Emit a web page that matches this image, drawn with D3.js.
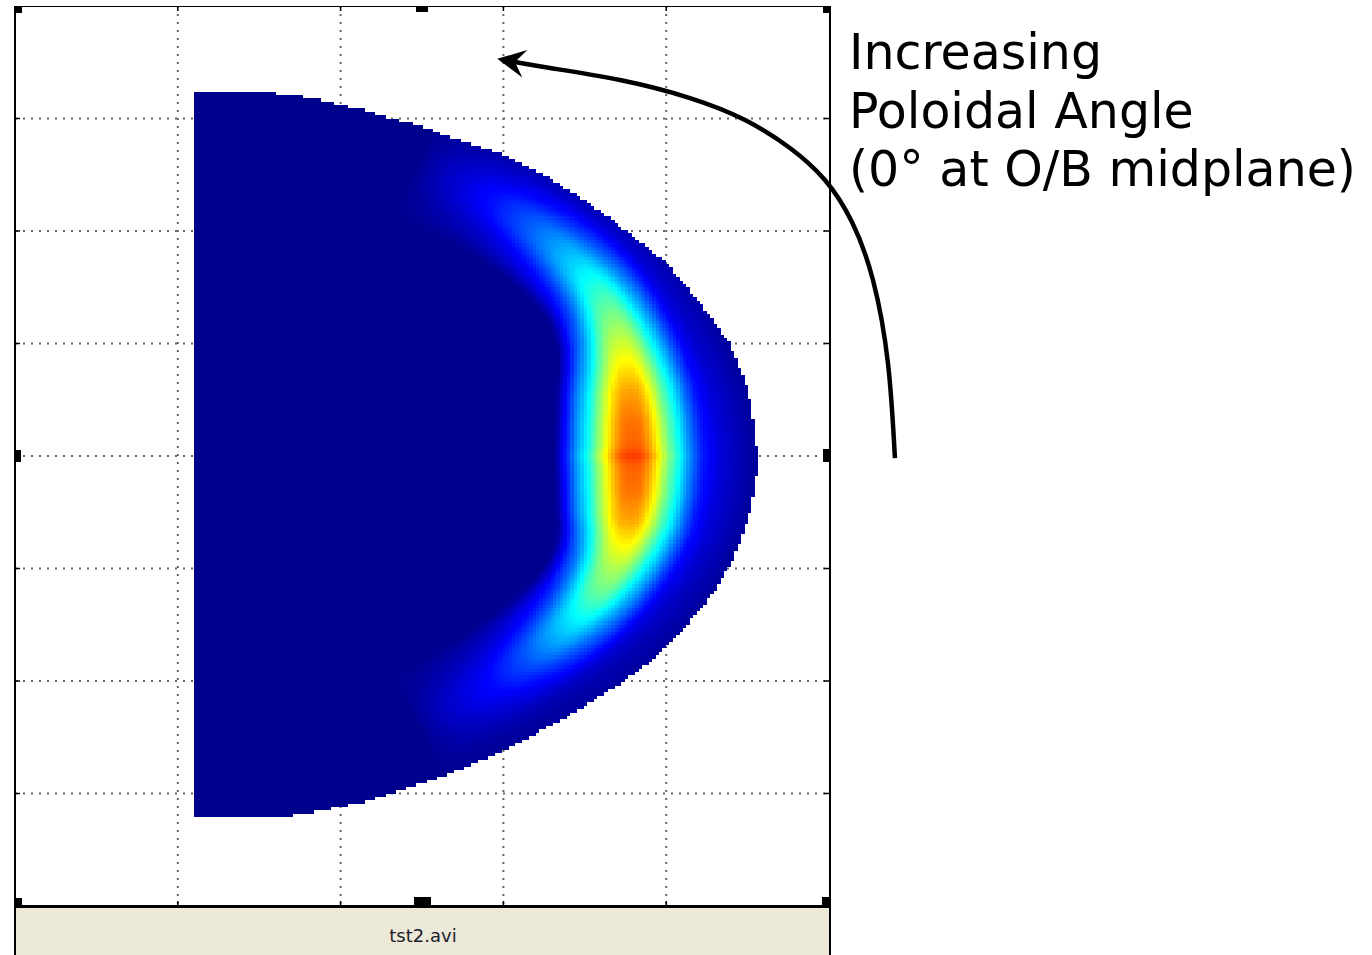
<!DOCTYPE html>
<html><head><meta charset="utf-8">
<script src="https://cdn.jsdelivr.net/npm/d3@7"></script>
<style>html,body{margin:0;padding:0;background:#fff;} svg{display:block;}</style>
</head><body>
<svg id="chart" width="1372" height="955"></svg>
<script>
// ---------- data ----------
const xTicks = [0, 1, 2, 3, 4, 5];
const yTicks = [-4, -3, -2, -1, 0, 1, 2, 3, 4];

// right-hand edge of the D-shaped plasma boundary (data units)
const boundaryY = [3.24, 3.225, 3.20, 3.16, 3.12, 3.08, 3.02, 2.96, 2.81, 2.68, 2.48, 2.32, 2.12, 1.72, 1.36, 1.00, 0.61, 0.17, 0.00, -0.15, -0.54, -0.92, -1.22, -1.55, -1.81, -2.02, -2.32, -2.64, -2.88, -3.08, -3.15, -3.22];
const boundaryX = [1.58, 1.60, 1.76, 1.90, 2.01, 2.13, 2.27, 2.44, 2.72, 3.00, 3.27, 3.45, 3.65, 4.00, 4.21, 4.39, 4.50, 4.55, 4.56, 4.56, 4.51, 4.41, 4.29, 4.10, 3.92, 3.72, 3.39, 2.98, 2.57, 2.13, 1.89, 1.61];
const boundaryLeft = 1.10;

// emission ridge (upper tip -> midplane -> lower tip)
const ridgeX = [2.488, 2.611, 2.776, 2.961, 3.163, 3.348, 3.501, 3.612, 3.695, 3.745, 3.772, 3.788, 3.795, 3.795, 3.795, 3.795, 3.795, 3.788, 3.766, 3.727, 3.660, 3.570, 3.458, 3.305, 3.133, 2.948, 2.776, 2.611, 2.488];
const ridgeY = [2.613, 2.524, 2.391, 2.249, 2.053, 1.831, 1.609, 1.387, 1.120, 0.853, 0.587, 0.320, 0.098, 0.044, 0.000, -0.044, -0.098, -0.320, -0.569, -0.791, -1.013, -1.218, -1.413, -1.618, -1.813, -2.009, -2.169, -2.320, -2.418];
const ridgePeak = [0.00, 0.04, 0.08, 0.13, 0.20, 0.28, 0.36, 0.44, 0.53, 0.62, 0.71, 0.76, 0.78, 0.80, 0.82, 0.80, 0.78, 0.76, 0.71, 0.62, 0.53, 0.46, 0.37, 0.28, 0.19, 0.12, 0.08, 0.04, 0.00];
const ridgeWidth = [0.75, 0.75, 0.74, 0.73, 0.72, 0.72, 0.73, 0.75, 0.80, 0.87, 0.94, 0.98, 1.00, 1.00, 1.00, 1.00, 1.00, 0.98, 0.94, 0.87, 0.80, 0.75, 0.73, 0.72, 0.72, 0.73, 0.74, 0.75, 0.75];

// cross-ridge profile (offset outward positive, data x-units) -> relative intensity
const profileOffset = [-0.48, -0.42, -0.355, -0.28, -0.215, -0.16, -0.105, -0.05, 0.00, 0.05, 0.10, 0.15, 0.21, 0.28, 0.35, 0.42, 0.52, 0.65, 0.80];
const profileValue  = [0.00, 0.15, 0.32, 0.47, 0.64, 0.79, 0.92, 0.99, 1.00, 0.99, 0.92, 0.80, 0.64, 0.48, 0.31, 0.18, 0.10, 0.05, 0.00];

// jet colormap stops
const jetStops  = [0, 0.111, 0.365, 0.619, 0.873, 1];
const jetColors = ["#00008f", "#0000ff", "#00ffff", "#ffff00", "#ff0000", "#800000"];

// annotation arrow path (data units)
const arrowX = [5.405, 5.362, 5.270, 5.141, 4.975, 4.760, 4.484, 4.146, 3.716, 3.286, 3.071];
const arrowY = [-0.018, 0.827, 1.564, 2.080, 2.453, 2.738, 2.987, 3.182, 3.342, 3.449, 3.502];

const annotationLines = ["Increasing", "Poloidal Angle", "(0\u00b0 at O/B midplane)"];
const caption = "tst2.avi";

const cellDX = 0.021, cellDY = 0.03;

// ---------- scales ----------
const svg = d3.select("#chart");
const x = d3.scaleLinear().domain([0, 5]).range([15, 829]);
const y = d3.scaleLinear().domain([-4, 4]).range([906, 6]);
const jet = d3.scaleLinear().domain(jetStops).range(jetColors).clamp(true);
const rightEdge = d3.scaleLinear().domain(boundaryY).range(boundaryX);
const profile = d3.scaleLinear().domain(profileOffset).range(profileValue).clamp(true);
const pxPerUnit = x(1) - x(0);

svg.append("rect").attr("x", 0).attr("y", 0).attr("width", 1372).attr("height", 955).attr("fill", "#fff");

// grid (below the image)
const grid = svg.append("g").attr("stroke", "#666").attr("stroke-width", 2).attr("stroke-dasharray", "2,6");
grid.selectAll("line.v").data(xTicks.slice(1, -1)).join("line")
  .attr("x1", d => x(d)).attr("x2", d => x(d)).attr("y1", y(4)).attr("y2", y(-4));
grid.selectAll("line.h").data(yTicks.slice(1, -1)).join("line")
  .attr("y1", d => y(d)).attr("y2", d => y(d)).attr("x1", x(0)).attr("x2", x(5));

// ---------- field ----------
// smooth the ridge (Catmull-Rom through the read points) in screen space
const rp = ridgeX.map((d, i) => ({ px: x(d), py: y(ridgeY[i]), pk: ridgePeak[i], w: ridgeWidth[i] }));
const ridge = [];
const SUB = 8;
for (let i = 0; i < rp.length - 1; i++) {
  const p0 = rp[Math.max(i - 1, 0)], p1 = rp[i], p2 = rp[i + 1], p3 = rp[Math.min(i + 2, rp.length - 1)];
  for (let s = 0; s < SUB; s++) {
    const t = s / SUB, t2 = t * t, t3 = t2 * t;
    const cr = (a, b, c, d) => 0.5 * ((2 * b) + (-a + c) * t + (2 * a - 5 * b + 4 * c - d) * t2 + (-a + 3 * b - 3 * c + d) * t3);
    ridge.push({
      px: cr(p0.px, p1.px, p2.px, p3.px), py: cr(p0.py, p1.py, p2.py, p3.py),
      pk: p1.pk + t * (p2.pk - p1.pk), w: p1.w + t * (p2.w - p1.w)
    });
  }
}
ridge.push(rp[rp.length - 1]);

function fieldValue(cx, cy) {
  const px = x(cx), py = y(cy);
  let best = Infinity, peak = 0, w = 1, sign = 1;
  for (let i = 0; i < ridge.length - 1; i++) {
    const a = ridge[i], b = ridge[i + 1];
    const dx = b.px - a.px, dy = b.py - a.py, L2 = dx * dx + dy * dy;
    if (L2 === 0) continue;
    let t = ((px - a.px) * dx + (py - a.py) * dy) / L2;
    t = Math.max(0, Math.min(1, t));
    const qx = a.px + t * dx, qy = a.py + t * dy;
    const d2 = (px - qx) ** 2 + (py - qy) ** 2;
    if (d2 < best) {
      best = d2;
      peak = a.pk + t * (b.pk - a.pk);
      w = a.w + t * (b.w - a.w);
      const cross = dx * (py - a.py) - dy * (px - a.px);
      sign = cross < 0 ? 1 : -1;
    }
  }
  const off = sign * Math.sqrt(best) / pxPerUnit / w;
  return peak * profile(off);
}

const yMin = d3.min(boundaryY), yMax = d3.max(boundaryY);
const xMax = d3.max(boundaryX);
const ny = Math.round((yMax - yMin) / cellDY);
const nx = Math.round((xMax + 0.02 - boundaryLeft) / cellDX);
const runs = [];
for (let j = 0; j < ny; j++) {
  const y0 = yMax - j * cellDY, y1 = y0 - cellDY, cy = (y0 + y1) / 2;
  const xr = rightEdge(cy);
  let cur = null;
  for (let i = 0; i < nx; i++) {
    const x0 = boundaryLeft + i * cellDX, x1 = x0 + cellDX, cx = (x0 + x1) / 2;
    if (cx > xr) break;
    const c = jet(fieldValue(cx, cy));
    if (cur && cur.c === c) { cur.x1 = x1; }
    else { cur = { x0, x1, y0, y1, c }; runs.push(cur); }
  }
}
svg.append("g").attr("shape-rendering", "crispEdges")
  .selectAll("rect").data(runs).join("rect")
  .attr("x", d => x(d.x0)).attr("width", d => x(d.x1) - x(d.x0))
  .attr("y", d => y(d.y0)).attr("height", d => y(d.y1) - y(d.y0))
  .attr("fill", d => d.c);

// ---------- frame ----------
svg.append("rect").attr("x", x(0) + 1).attr("y", y(-4) + 1).attr("width", x(5) - x(0)).attr("height", 955 - y(-4))
  .attr("fill", "#ece9d8");
const frame = svg.append("g").attr("stroke", "#000").attr("shape-rendering", "crispEdges");
frame.append("line").attr("x1", x(0)).attr("x2", x(0)).attr("y1", y(4)).attr("y2", 955).attr("stroke-width", 2);
frame.append("line").attr("x1", x(5) + 1).attr("x2", x(5) + 1).attr("y1", y(4)).attr("y2", 955).attr("stroke-width", 2);
frame.append("line").attr("x1", x(0)).attr("x2", x(5) + 1).attr("y1", y(4)).attr("y2", y(4)).attr("stroke-width", 1);
frame.append("line").attr("x1", x(0)).attr("x2", x(5) + 1).attr("y1", y(-4)).attr("y2", y(-4)).attr("stroke-width", 3);

svg.append("text").attr("x", (x(0) + x(5)) / 2 + 1).attr("y", 942).attr("text-anchor", "middle")
  .attr("font-family", "'DejaVu Sans', Verdana, sans-serif").attr("font-size", 18).attr("fill", "#1c1c2c")
  .text(caption);

// ticks (inward)
const tk = svg.append("g").attr("stroke", "#000").attr("stroke-width", 1.5);
tk.selectAll("line.b").data(xTicks.slice(1, -1)).join("line")
  .attr("x1", d => x(d)).attr("x2", d => x(d)).attr("y1", y(-4)).attr("y2", y(-4) - 5);
tk.selectAll("line.t").data(xTicks.slice(1, -1)).join("line")
  .attr("x1", d => x(d)).attr("x2", d => x(d)).attr("y1", y(4)).attr("y2", y(4) + 5);
tk.selectAll("line.l").data(yTicks.slice(1, -1)).join("line")
  .attr("y1", d => y(d)).attr("y2", d => y(d)).attr("x1", x(0)).attr("x2", x(0) + 5);
tk.selectAll("line.r").data(yTicks.slice(1, -1)).join("line")
  .attr("y1", d => y(d)).attr("y2", d => y(d)).attr("x1", x(5)).attr("x2", x(5) - 5);

// selection handles
const xm = (x(0) + x(5)) / 2, ym = y(0);
const handles = [
  [x(0), y(4), 7, 7], [xm - 6, y(4), 12, 6], [x(5) - 6, y(4), 7, 7],
  [x(0), ym - 6, 6, 12], [x(5) - 6, ym - 7, 8, 13],
  [x(0), y(-4) - 8, 7, 8], [xm - 8, y(-4) - 9, 17, 9], [x(5) - 7, y(-4) - 9, 8, 9]
];
svg.append("g").selectAll("rect").data(handles).join("rect")
  .attr("x", d => d[0]).attr("y", d => d[1]).attr("width", d => d[2]).attr("height", d => d[3]).attr("fill", "#000");

// ---------- annotation ----------
const defs = svg.append("defs");
defs.append("marker").attr("id", "head").attr("markerUnits", "userSpaceOnUse")
  .attr("viewBox", "-12 -16 32 32").attr("refX", 0).attr("refY", 0)
  .attr("markerWidth", 32).attr("markerHeight", 32).attr("orient", "auto")
  .append("path").attr("d", "M18,0 L-10,-14 L0,0 L-10,14 Z").attr("fill", "#000");

const arrowPts = arrowX.map((d, i) => [x(d), y(arrowY[i])]);
svg.append("path").attr("d", d3.line().curve(d3.curveNatural)(arrowPts))
  .attr("fill", "none").attr("stroke", "#000").attr("stroke-width", 4.5)
  .attr("marker-end", "url(#head)");

const ann = svg.append("text").attr("font-family", "'DejaVu Sans', Verdana, sans-serif")
  .attr("font-size", 49).attr("fill", "#000");
ann.selectAll("tspan").data(annotationLines).join("tspan")
  .attr("x", 849).attr("y", (d, i) => 69 + i * 58.5).text(d => d);
</script>
</body></html>
